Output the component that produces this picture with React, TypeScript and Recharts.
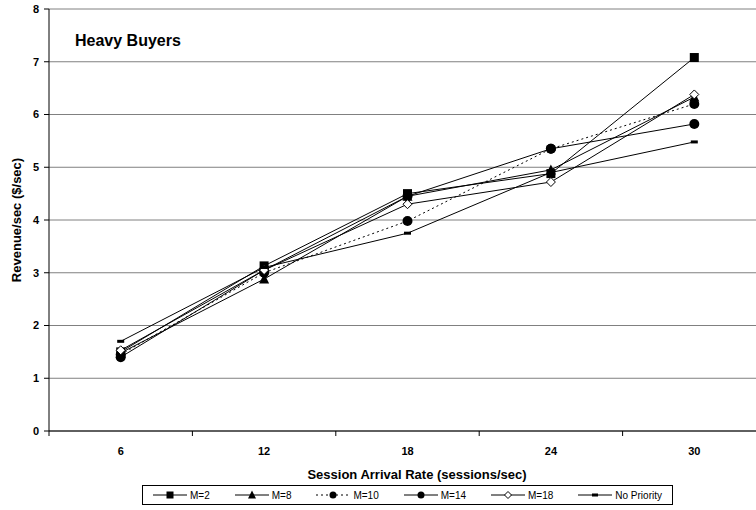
import { LineChart, Line, XAxis, YAxis, CartesianGrid, Legend } from "recharts";

// Session arrival rate (sessions/sec) and revenue per policy ($/sec)
const arrivalRates = [6, 12, 18, 24, 30];
const m2 = [1.5, 3.13, 4.5, 4.88, 7.08];
const m8 = [1.48, 2.88, 4.45, 4.95, 6.33];
const m10 = [1.45, 3.0, 3.98, 5.35, 6.2];
const m14 = [1.4, 3.05, 4.45, 5.35, 5.82];
const m18 = [1.53, 3.05, 4.3, 4.72, 6.38];
const noPriority = [1.7, 3.1, 3.75, 4.9, 5.48];

const yTicks = [0, 1, 2, 3, 4, 5, 6, 7, 8];
// labelled rates plus the category boundaries that carry tick marks
const xTicks = [3, 6, 9, 12, 15, 18, 21, 24, 27, 30, 33];

const FONT = "'Liberation Sans', Arial, sans-serif";

type Shape = "square" | "triangle" | "circle" | "diamond" | "dash";

const series: { key: string; name: string; shape: Shape; dash?: string }[] = [
  { key: "m2", name: "M=2", shape: "square" },
  { key: "m8", name: "M=8", shape: "triangle" },
  { key: "m10", name: "M=10", shape: "circle", dash: "2 3" },
  { key: "m14", name: "M=14", shape: "circle" },
  { key: "m18", name: "M=18", shape: "diamond" },
  { key: "noPriority", name: "No Priority", shape: "dash" },
];

const data = arrivalRates.map((rate, i) => ({
  rate,
  m2: m2[i],
  m8: m8[i],
  m10: m10[i],
  m14: m14[i],
  m18: m18[i],
  noPriority: noPriority[i],
}));

function Marker({ cx, cy, shape, size }: { cx: number; cy: number; shape: Shape; size: number }) {
  const h = size / 2;
  switch (shape) {
    case "square":
      return <rect x={cx - h} y={cy - h} width={size} height={size} fill="#000" />;
    case "triangle":
      return <polygon points={`${cx},${cy - h - 1} ${cx + h + 0.5},${cy + h} ${cx - h - 0.5},${cy + h}`} fill="#000" />;
    case "circle":
      return <circle cx={cx} cy={cy} r={h} fill="#000" />;
    case "diamond":
      return (
        <polygon
          points={`${cx},${cy - h} ${cx + h},${cy} ${cx},${cy + h} ${cx - h},${cy}`}
          fill="#fff"
          stroke="#000"
          strokeWidth={1}
        />
      );
    default:
      return <rect x={cx - h} y={cy - 1.5} width={size} height={3} fill="#000" />;
  }
}

function RateTick(props: any) {
  const { x, y, payload } = props;
  const v = payload.value as number;
  if (v % 6 === 3) {
    return <line x1={x} y1={y - 5} x2={x} y2={y} stroke="#000" strokeWidth={1} />;
  }
  return (
    <text x={x} y={y + 19} textAnchor="middle" fontFamily={FONT} fontSize={11} fontWeight="bold" fill="#000">
      {v}
    </text>
  );
}

function LegendBox() {
  return (
    <div
      style={{
        display: "flex",
        justifyContent: "space-between",
        alignItems: "center",
        boxSizing: "border-box",
        height: 20,
        padding: "0 10px",
        border: "1px solid #000",
        background: "#fff",
        fontFamily: FONT,
        fontSize: 10,
        color: "#000",
      }}
    >
      {series.map((s) => (
        <div key={s.key} style={{ display: "flex", alignItems: "center" }}>
          <svg width={34} height={10} style={{ marginRight: 3 }}>
            <line x1={0} y1={5} x2={34} y2={5} stroke="#000" strokeWidth={1} strokeDasharray={s.dash} />
            <Marker cx={17} cy={5} shape={s.shape} size={s.shape === "dash" ? 6 : 7} />
          </svg>
          <span>{s.name}</span>
        </div>
      ))}
    </div>
  );
}

export default function App() {
  return (
    <div
      style={{
        position: "fixed",
        left: 0,
        top: 0,
        width: 756,
        height: 510,
        overflow: "hidden",
        background: "#fff",
      }}
    >
      <LineChart width={780} height={510} data={data} margin={{ top: 9, right: 14, bottom: 59, left: 0 }}>
        <CartesianGrid vertical={false} stroke="#808080" strokeWidth={1} />
        <XAxis
          dataKey="rate"
          type="number"
          domain={[3, 33]}
          ticks={xTicks}
          interval={0}
          height={20}
          tickSize={5}
          tickMargin={0}
          tickLine={false}
          axisLine={{ stroke: "#000" }}
          tick={<RateTick />}
        />
        <YAxis
          domain={[0, 8]}
          ticks={yTicks}
          interval={0}
          width={49}
          tickSize={5}
          tickMargin={5}
          axisLine={{ stroke: "#000" }}
          tickLine={{ stroke: "#000" }}
          tick={{ fontFamily: FONT, fontSize: 11, fontWeight: "bold", fill: "#000" }}
        />
        {series.map((s) => (
          <Line
            key={s.key}
            dataKey={s.key}
            name={s.name}
            stroke="#000"
            strokeWidth={1}
            strokeDasharray={s.dash}
            isAnimationActive={false}
            dot={(p: any) => (
              <Marker key={`${s.key}-${p.index}`} cx={p.cx} cy={p.cy} shape={s.shape} size={s.shape === "dash" ? 7 : s.shape === "circle" ? 10 : 9} />
            )}
            activeDot={false}
          />
        ))}
        <Legend
          layout="horizontal"
          verticalAlign="middle"
          align="center"
          content={() => <LegendBox />}
          wrapperStyle={{ position: "absolute", left: 142, top: 485, width: 531, height: 20 }}
        />
        <text x={75} y={46} fontFamily={FONT} fontSize={16} fontWeight="bold" fill="#000">
          Heavy Buyers
        </text>
        <text
          x={417}
          y={479}
          textAnchor="middle"
          fontFamily={FONT}
          fontSize={13}
          fontWeight="bold"
          fill="#000"
        >
          Session Arrival Rate (sessions/sec)
        </text>
        <text
          x={21}
          y={220}
          textAnchor="middle"
          transform="rotate(-90 21 220)"
          fontFamily={FONT}
          fontSize={13}
          fontWeight="bold"
          fill="#000"
        >
          Revenue/sec ($/sec)
        </text>
      </LineChart>
    </div>
  );
}
